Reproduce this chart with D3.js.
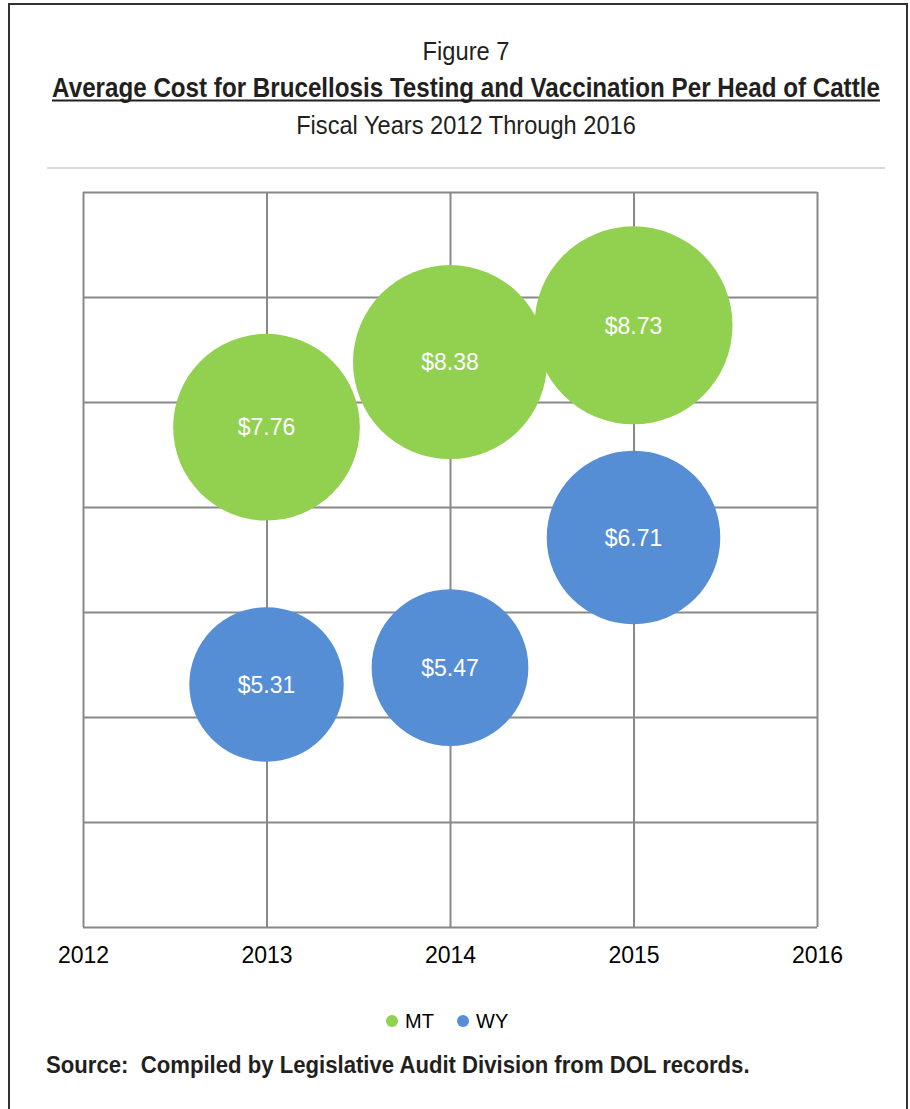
<!DOCTYPE html>
<html>
<head>
<meta charset="utf-8">
<script src="https://cdn.jsdelivr.net/npm/d3@7"></script>
<style>
  body { margin: 0; background: #fff; }
  text { font-family: "Liberation Sans", Arial, sans-serif; }
</style>
</head>
<body>
<div id="chart"></div>
<script>
const WIDTH = 910;
const HEIGHT = 1109;
const PLOT = {left: 83, right: 817, top: 192, bottom: 927};

// data
const years = [2013, 2014, 2015];
const mtCost = [7.76, 8.38, 8.73];
const wyCost = [5.31, 5.47, 6.71];
const xTicks = [2012, 2013, 2014, 2015, 2016];
const yTicks = [3, 4, 5, 6, 7, 8, 9, 10];
const seriesNames = ["MT", "WY"];
const seriesColors = ["#92d050", "#558ed5"];

let svg = d3.select("#chart")
  .append("svg")
    .attr("width", WIDTH)
    .attr("height", HEIGHT);

// outer frame (left, top, right only)
svg.append("path")
  .attr("d", "M9,1109 V4 H907 V1109")
  .attr("fill", "none")
  .attr("stroke", "#333")
  .attr("stroke-width", 2);

// condensed text: squeeze a normal font horizontally to the wanted width
function narrowText(str, x, y, size, bold, width, anchor) {
  let t = svg.append("text")
    .attr("font-size", size)
    .attr("font-weight", bold ? "bold" : "normal")
    .attr("fill", "#231f20")
    .attr("text-anchor", anchor)
    .attr("xml:space", "preserve")
    .text(str);
  let len = t.node().getComputedTextLength();
  t.attr("transform", "translate(" + x + "," + y + ") scale(" + (width / len) + ",1)");
  return t;
}

// titles
narrowText("Figure 7", 466, 60, 26, false, 87, "middle");
narrowText("Average Cost for Brucellosis Testing and Vaccination Per Head of Cattle",
  466, 97, 28, true, 828, "middle");

svg.append("line")
  .attr("x1", 52).attr("x2", 880)
  .attr("y1", 100.5).attr("y2", 100.5)
  .attr("stroke", "#231f20").attr("stroke-width", 2);

narrowText("Fiscal Years 2012 Through 2016", 466, 134, 26, false, 340, "middle");

svg.append("line")
  .attr("x1", 47).attr("x2", 885)
  .attr("y1", 168).attr("y2", 168)
  .attr("stroke", "#d9d9d9").attr("stroke-width", 2);

// scales
let x = d3.scaleLinear()
  .domain([2012, 2016])
  .range([PLOT.left, PLOT.right]);

let y = d3.scaleLinear()
  .domain([3, 10])
  .range([PLOT.bottom, PLOT.top]);

let r = d3.scaleSqrt()
  .domain([0, d3.max(mtCost.concat(wyCost))])
  .range([0, 99]);

// horizontal gridlines
let yAxis = svg.append("g")
  .attr("transform", "translate(" + PLOT.left + ",0)")
  .call(d3.axisLeft(y).tickValues(yTicks)
    .tickSize(-(PLOT.right - PLOT.left)).tickFormat(""));
yAxis.select(".domain").remove();
yAxis.selectAll(".tick line")
  .attr("stroke", "#898989").attr("stroke-width", 2);

// vertical gridlines + year labels
let xAxis = svg.append("g")
  .attr("transform", "translate(0," + PLOT.bottom + ")")
  .call(d3.axisBottom(x).tickValues(xTicks)
    .tickSize(-(PLOT.bottom - PLOT.top)).tickPadding(20)
    .tickFormat(d3.format("d")));
xAxis.select(".domain").remove();
xAxis.selectAll(".tick line")
  .attr("stroke", "#898989").attr("stroke-width", 2);
xAxis.selectAll(".tick text")
  .attr("font-family", "'Liberation Sans', Arial, sans-serif")
  .attr("font-size", 23)
  .attr("fill", "#000");

// bubbles
let points = [];
years.forEach((yr, i) => {
  points.push({year: yr, value: mtCost[i], s: 0});
  points.push({year: yr, value: wyCost[i], s: 1});
});

svg.append("g").selectAll("circle")
  .data(points)
  .enter()
  .append("circle")
    .attr("cx", d => x(d.year))
    .attr("cy", d => y(d.value))
    .attr("r", d => r(d.value))
    .attr("fill", d => seriesColors[d.s]);

svg.append("g").selectAll("text")
  .data(points)
  .enter()
  .append("text")
    .attr("x", d => x(d.year))
    .attr("y", d => y(d.value))
    .attr("dy", "0.36em")
    .attr("text-anchor", "middle")
    .attr("font-size", 23)
    .attr("fill", "#fff")
    .text(d => "$" + d.value.toFixed(2));

// legend
const legendX = [392, 463];
let legend = svg.append("g").selectAll("g")
  .data(seriesNames)
  .enter()
  .append("g")
    .attr("transform", (d, i) => "translate(" + legendX[i] + ",1021)");
legend.append("circle")
  .attr("r", 6)
  .attr("fill", (d, i) => seriesColors[i]);
legend.append("text")
  .attr("x", 13)
  .attr("dy", "0.36em")
  .attr("font-size", 20)
  .attr("fill", "#000")
  .text(d => d);

// source note
narrowText("Source:  Compiled by Legislative Audit Division from DOL records.",
  46, 1073, 24, true, 704, "start");
</script>
</body>
</html>
